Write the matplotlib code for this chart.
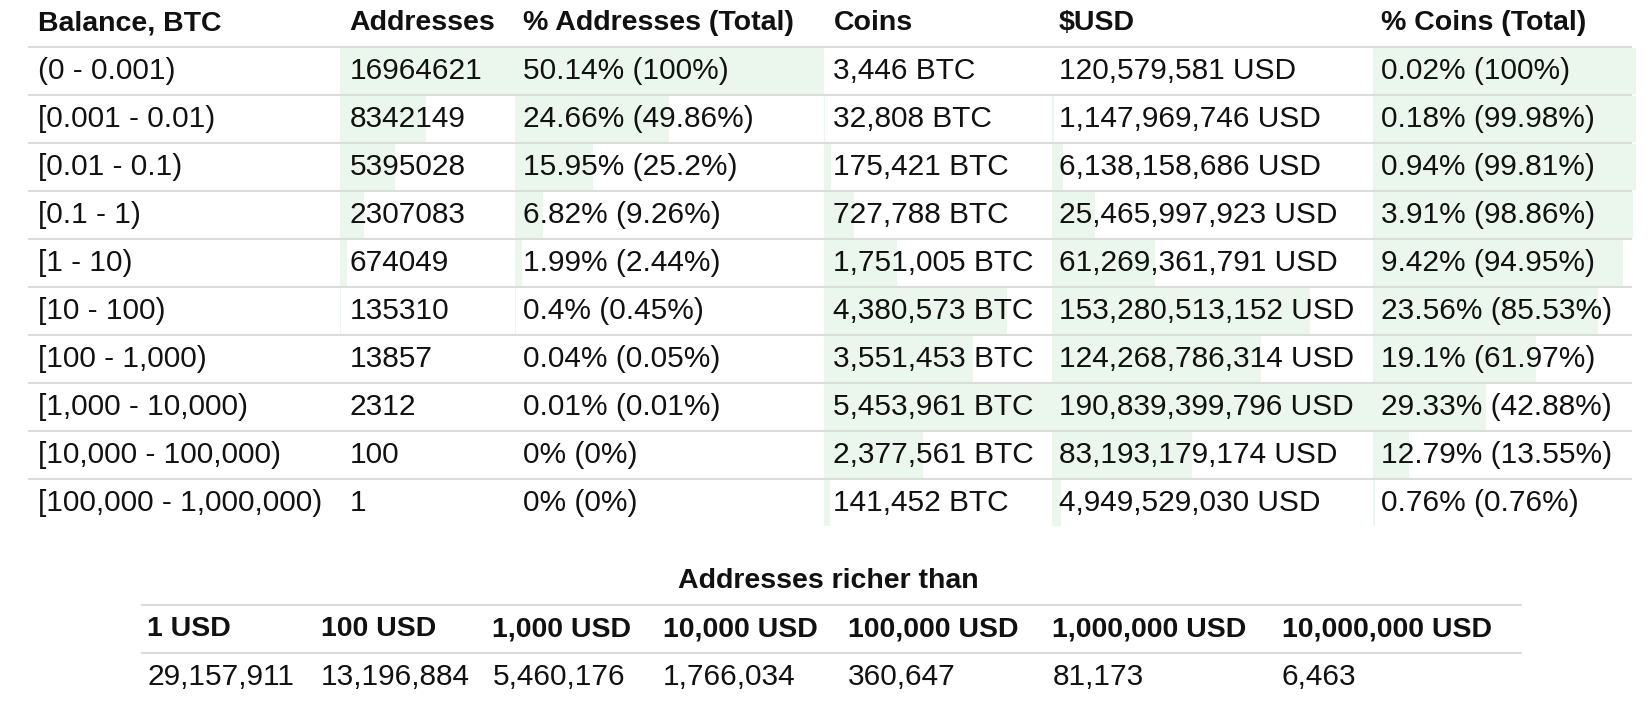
import matplotlib
matplotlib.use("Agg")
import matplotlib.pyplot as plt

balances = ["(0 - 0.001)", "[0.001 - 0.01)", "[0.01 - 0.1)", "[0.1 - 1)", "[1 - 10)", "[10 - 100)",
            "[100 - 1,000)", "[1,000 - 10,000)", "[10,000 - 100,000)", "[100,000 - 1,000,000)"]
addresses = [16964621, 8342149, 5395028, 2307083, 674049, 135310, 13857, 2312, 100, 1]
addr_pct = ["50.14%", "24.66%", "15.95%", "6.82%", "1.99%", "0.4%", "0.04%", "0.01%", "0%", "0%"]
addr_cum = [100, 49.86, 25.2, 9.26, 2.44, 0.45, 0.05, 0.01, 0, 0]
coins = [3446, 32808, 175421, 727788, 1751005, 4380573, 3551453, 5453961, 2377561, 141452]
usd = [120579581, 1147969746, 6138158686, 25465997923, 61269361791, 153280513152,
       124268786314, 190839399796, 83193179174, 4949529030]
coin_pct = ["0.02%", "0.18%", "0.94%", "3.91%", "9.42%", "23.56%", "19.1%", "29.33%", "12.79%", "0.76%"]
coin_cum = [100, 99.98, 99.81, 98.86, 94.95, 85.53, 61.97, 42.88, 13.55, 0.76]
headers = ["Balance, BTC", "Addresses", "% Addresses (Total)", "Coins", "$USD", "% Coins (Total)"]

rich_labels = ["1 USD", "100 USD", "1,000 USD", "10,000 USD", "100,000 USD", "1,000,000 USD", "10,000,000 USD"]
rich_values = [29157911, 13196884, 5460176, 1766034, 360647, 81173, 6463]

W, H = 1568, 684
fig = plt.figure(figsize=(16.5, 7.2), dpi=100)
ax = fig.add_axes([0, 0, 1, 1])
ax.set_xlim(0, W); ax.set_ylim(H, 0); ax.axis("off")
plt.rcParams["font.family"] = "Liberation Sans"
FS = 21.5
GREEN = "#ebf6ec"; LINE = "#dcdcdc"; TXT = "#111111"

col_edges = [28, 323, 489, 783, 1000, 1305, 1555]
text_x = [36, 332, 497, 792, 1006, 1312]
head_y = 22
row_top0 = 45
rh = 45.6

for i, h in enumerate(headers):
    ax.text(text_x[i], head_y, h, fontsize=FS - 1, fontweight="bold", va="center", color=TXT)

amax, cmax, umax = max(addresses), max(coins), max(usd)
for r in range(len(balances)):
    top = row_top0 + r * rh
    yc = top + rh / 2
    fracs = [None, addresses[r] / amax, addr_cum[r] / 100, coins[r] / cmax, usd[r] / umax, coin_cum[r] / 100]
    for c in range(1, 6):
        x0 = col_edges[c]; w = (col_edges[c + 1] - x0) * fracs[c]
        ax.add_patch(plt.Rectangle((x0, top + 1), w, rh - 2, color=GREEN, lw=0, zorder=0))
    vals = [balances[r], str(addresses[r]), f"{addr_pct[r]} ({addr_cum[r]:g}%)",
            f"{coins[r]:,} BTC", f"{usd[r]:,} USD", f"{coin_pct[r]} ({coin_cum[r]:g}%)"]
    for c, v in enumerate(vals):
        ax.text(text_x[c], yc, v, fontsize=FS, va="center", color=TXT, zorder=2)
for r in range(len(balances)):
    y = row_top0 + r * rh
    ax.plot([28, 1550], [y, y], color=LINE, lw=1.5, zorder=1)

# second table
ax.text(787, 552, "Addresses richer than", fontsize=FS - 1, fontweight="bold", ha="center", va="center", color=TXT)
ax.plot([135, 1445], [575, 575], color=LINE, lw=1.5)
ax.plot([135, 1445], [620, 620], color=LINE, lw=1.5)
rx = [140, 305, 468, 630, 806, 1000, 1218]
for i, (l, v) in enumerate(zip(rich_labels, rich_values)):
    ax.text(rx[i], 598, l, fontsize=FS - 1, fontweight="bold", va="center", color=TXT)
    ax.text(rx[i], 643, f"{v:,}", fontsize=FS, va="center", color=TXT)

fig.savefig("out.png", dpi=100, facecolor="white")
